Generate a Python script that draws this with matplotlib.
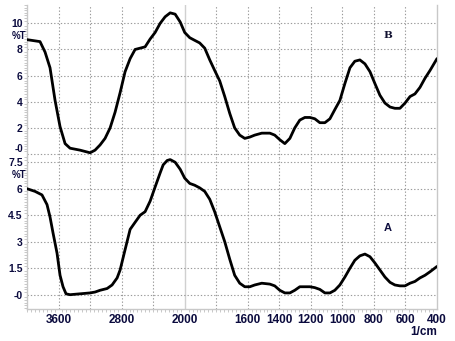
import numpy as np
import matplotlib
matplotlib.use("Agg")
import matplotlib.pyplot as plt
from matplotlib.ticker import FixedLocator, MultipleLocator

# ---- data (wavenumber in 1/cm, transmittance %T) ----
wn_B = [4000, 3835, 3771, 3708, 3644, 3581, 3517, 3454, 3327, 3200, 3137, 3073,
        3010, 2946, 2883, 2819, 2756, 2692, 2629, 2565, 2502, 2438, 2375, 2311,
        2248, 2184, 2121, 2057, 2000, 1968, 1937, 1905, 1873, 1841, 1810, 1778,
        1746, 1714, 1683, 1651, 1619, 1587, 1556, 1511, 1460, 1429, 1397, 1365,
        1333, 1302, 1270, 1238, 1206, 1175, 1143, 1111, 1079, 1048, 1016, 984,
        952, 921, 889, 857, 825, 794, 762, 730, 698, 667, 635, 603, 571, 540,
        508, 476, 444, 400]
T_B = [8.75, 8.6, 7.8, 6.6, 4.1, 2.1, 0.8, 0.45, 0.3, 0.1, 0.3, 0.7,
       1.2, 2.0, 3.2, 4.7, 6.3, 7.3, 8.0, 8.1, 8.2, 8.8, 9.3, 10.0,
       10.5, 10.8, 10.7, 10.1, 9.3, 8.9, 8.7, 8.5, 8.1, 7.2, 6.4, 5.6,
       4.4, 3.1, 2.0, 1.45, 1.2, 1.3, 1.45, 1.6, 1.6, 1.45, 1.1, 0.8,
       1.2, 2.0, 2.6, 2.8, 2.8, 2.7, 2.4, 2.4, 2.7, 3.4, 4.1, 5.4,
       6.6, 7.1, 7.2, 6.9, 6.3, 5.4, 4.5, 3.9, 3.6, 3.5, 3.5, 3.9, 4.4, 4.6,
       5.1, 5.8, 6.4, 7.3]

wn_A = [4000, 3898, 3810, 3746, 3708, 3670, 3619, 3581, 3543, 3505, 3454, 3327,
        3200, 3137, 3073, 2984, 2921, 2857, 2819, 2756, 2692, 2629, 2565, 2502,
        2438, 2375, 2311, 2273, 2222, 2184, 2121, 2057, 2000, 1968, 1937, 1905,
        1873, 1841, 1810, 1778, 1746, 1714, 1683, 1651, 1619, 1587, 1556, 1511,
        1460, 1429, 1397, 1365, 1333, 1302, 1270, 1238, 1206, 1175, 1143, 1111,
        1079, 1048, 1016, 984, 952, 921, 889, 857, 825, 794, 762, 730, 698,
        667, 635, 603, 571, 540, 508, 476, 444, 400]
T_A = [6.0, 5.85, 5.65, 5.1, 4.4, 3.5, 2.35, 1.1, 0.45, 0.05, 0.0, 0.05,
       0.1, 0.15, 0.25, 0.35, 0.55, 0.95, 1.4, 2.55, 3.7, 4.1, 4.5, 4.7,
       5.3, 6.1, 6.9, 7.35, 7.6, 7.65, 7.5, 7.1, 6.6, 6.3, 6.2, 6.05,
       5.85, 5.4, 4.7, 3.85, 3.0, 2.0, 1.1, 0.65, 0.45, 0.45, 0.55, 0.65,
       0.6, 0.5, 0.25, 0.1, 0.1, 0.25, 0.45, 0.45, 0.45, 0.4, 0.3, 0.1,
       0.1, 0.25, 0.55, 1.0, 1.5, 1.95, 2.2, 2.3, 2.15, 1.8, 1.4, 1.0, 0.7,
       0.55, 0.5, 0.5, 0.65, 0.75, 0.95, 1.1, 1.3, 1.6]

x_ticks = [3600, 2800, 2000, 1600, 1400, 1200, 1000, 800, 600, 400]
x_grid = [3600, 3200, 2800, 2400, 2000, 1800, 1600, 1400, 1200, 1000, 800, 600]
yB_ticks = [10, 8, 6, 4, 2, 0]
yB_labels = ["10", "8", "6", "4", "2", "-0"]
yA_ticks = [7.5, 6, 4.5, 3, 1.5, 0]
yA_labels = ["7.5", "6", "4.5", "3", "1.5", "-0"]


# piecewise x-scale: 2000-400 region drawn at double scale
def fwd(w):
    w = np.asarray(w, dtype=float)
    return np.where(w <= 2000, w, 2000 + (w - 2000) / 2.0)


def inv(v):
    v = np.asarray(v, dtype=float)
    return np.where(v <= 2000, v, 2000 + 2.0 * (v - 2000))


LBL = "#0b0b3e"
GRID = "#9a9a9a"
SPINE = "#c8c8c8"

fig = plt.figure(figsize=(4.56, 3.41), dpi=100)
axB = fig.add_axes([27 / 456, (341 - 158) / 341, 410 / 456, 153 / 341])
axA = fig.add_axes([27 / 456, (341 - 309) / 341, 410 / 456, 151 / 341], sharex=axB)

for ax in (axA, axB):
    ax.set_xscale("function", functions=(fwd, inv))
    ax.set_xlim(4000, 400)
    ax.set_xticks(x_ticks)
    ax.xaxis.set_minor_locator(FixedLocator(list(range(4000, 2000, -50)) + list(range(2000, 399, -25))))
    for w in x_grid:
        if w == 2000:
            ax.axvline(w, color="#d0d0d0", lw=1.0, zorder=1)
        else:
            ax.axvline(w, color=GRID, lw=0.8, ls=(0, (1.2, 1.8)), zorder=1)
    ax.spines["top"].set_visible(False)
    for s in ("left", "bottom", "right"):
        ax.spines[s].set_color(SPINE)
        ax.spines[s].set_linewidth(1.0)
    ax.tick_params(axis="both", which="major", length=0, colors=LBL, labelcolor=LBL)
    ax.tick_params(axis="both", which="minor", length=2.5, color=SPINE, width=0.7)

# top panel B
axB.set_ylim(-0.3, 11.4)
axB.set_yticks(yB_ticks)
axB.set_yticklabels(yB_labels)
axB.yaxis.set_minor_locator(MultipleLocator(0.2))
for t in yB_ticks:
    axB.axhline(t, color=GRID, lw=0.8, ls=(0, (1.2, 1.8)), zorder=1)
axB.plot(wn_B, T_B, color="black", lw=2.0, zorder=3,
         solid_capstyle="round", solid_joinstyle="round")
axB.spines["bottom"].set_visible(False)
axB.tick_params(axis="x", which="both", length=0, labelbottom=False)
axB.text(710, 9.1, "B", family="DejaVu Serif", fontweight="bold", fontsize=7.5,
         color="#101030", ha="center", va="center")

# bottom panel A
axA.set_ylim(-0.81, 7.74)
axA.set_yticks(yA_ticks)
axA.set_yticklabels(yA_labels)
axA.yaxis.set_minor_locator(MultipleLocator(0.15))
for t in yA_ticks:
    axA.axhline(t, color=GRID, lw=0.8, ls=(0, (1.2, 1.8)), zorder=1)
axA.plot(wn_A, T_A, color="black", lw=2.0, zorder=3,
         solid_capstyle="round", solid_joinstyle="round")
axA.text(710, 3.8, "A", family="Liberation Sans", fontweight="bold", fontsize=8,
         color="#101040", ha="center", va="center")

for lab in axA.get_yticklabels() + axB.get_yticklabels():
    lab.set_fontweight("bold")
    lab.set_fontsize(7.5)
    lab.set_family("Liberation Sans")
# the lowest label of the top panel sits just above the "7.5" of the lower panel
low = axB.get_yticklabels()[-1]
low.set_verticalalignment("bottom")
low.set_fontsize(7)
for lab in axA.get_xticklabels():
    lab.set_fontweight("bold")
    lab.set_fontsize(8.5)
    lab.set_family("Liberation Sans")
axA.tick_params(axis="x", which="major", pad=3.5)
axA.tick_params(axis="y", which="major", pad=3)
axB.tick_params(axis="y", which="major", pad=3)

fig.text(19 / 456, 1 - 36 / 341, "%T", fontsize=7, fontweight="bold", color=LBL,
         family="Liberation Sans", ha="center", va="center")
fig.text(19 / 456, 1 - 175 / 341, "%T", fontsize=7, fontweight="bold", color=LBL,
         family="Liberation Sans", ha="center", va="center")
fig.text(437 / 456, 1 - 332 / 341, "1/cm", fontsize=8.5, fontweight="bold", color=LBL,
         family="Liberation Sans", ha="right", va="center")

fig.savefig("out.png", dpi=100, facecolor="white")
